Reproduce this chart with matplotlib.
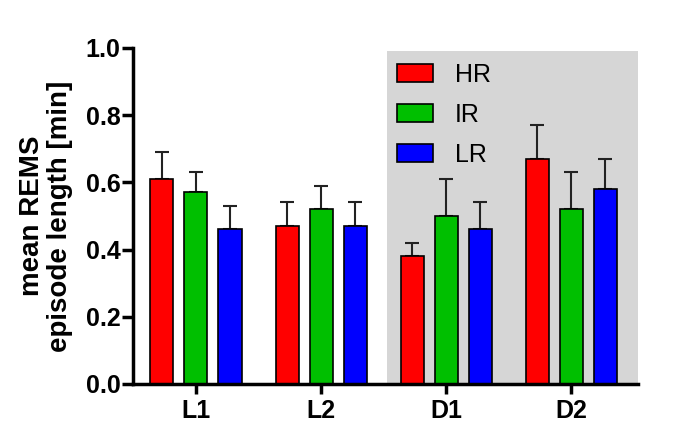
import matplotlib
matplotlib.use("Agg")
import matplotlib.pyplot as plt
import numpy as np
from matplotlib.patches import Rectangle

plt.rcParams['font.family'] = ['Liberation Sans', 'DejaVu Sans']

groups = ["L1", "L2", "D1", "D2"]
series = ["HR", "IR", "LR"]
colors = ["#ff0000", "#00bf00", "#0000ff"]
means = {
    "HR": [0.61, 0.47, 0.38, 0.67],
    "IR": [0.57, 0.52, 0.50, 0.52],
    "LR": [0.46, 0.47, 0.46, 0.58],
}
errs = {
    "HR": [0.08, 0.07, 0.04, 0.10],
    "IR": [0.06, 0.07, 0.11, 0.11],
    "LR": [0.07, 0.07, 0.08, 0.09],
}
yticks = [0.0, 0.2, 0.4, 0.6, 0.8, 1.0]

fig = plt.figure(figsize=(6.85, 4.48), dpi=100)
ax = fig.add_axes([0.194, 0.143, 0.737, 0.750])

x = np.arange(len(groups))
width = 0.184
offs = [-0.272, 0.0, 0.272]

ax.add_patch(Rectangle((1.528, 0), 3.53 - 1.528, 0.99, facecolor="#d6d6d6",
                       edgecolor="none", zorder=0))

for s, c, o in zip(series, colors, offs):
    ax.bar(x + o, means[s], width, color=c, edgecolor="black", linewidth=1.2,
           label=s, zorder=2)
    ax.errorbar(x + o, means[s], yerr=[np.zeros(len(groups)), errs[s]], fmt="none",
                ecolor="#222222", elinewidth=1.5, capsize=5, capthick=1.5, zorder=1)

ax.set_xlim(-0.504, 3.53)
ax.set_ylim(0, 1.0)
ax.set_yticks(yticks)
ax.set_yticklabels([f"{v:.1f}" for v in yticks], fontsize=18, fontweight="bold")
ax.set_xticks(x)
ax.set_xticklabels(groups, fontsize=18, fontweight="bold")
for sp in ["top", "right"]:
    ax.spines[sp].set_visible(False)
for sp in ["left", "bottom"]:
    ax.spines[sp].set_linewidth(2.5)
ax.tick_params(axis="y", length=8, width=2.5, direction="out", pad=1)
ax.tick_params(axis="x", length=7, width=2.5, direction="out", pad=4)

ax.set_ylabel("mean REMS\nepisode length [min]", fontsize=20, fontweight="bold",
              labelpad=9, linespacing=1.12)

leg = ax.legend(loc="upper left", bbox_to_anchor=(0.503, 0.985), frameon=False,
                fontsize=18, handlelength=1.44, handleheight=0.72,
                labelspacing=0.64, handletextpad=0.88, borderaxespad=0)
for h in leg.legend_handles:
    h.set_linewidth(1.2)

fig.savefig("out.png", dpi=100)
